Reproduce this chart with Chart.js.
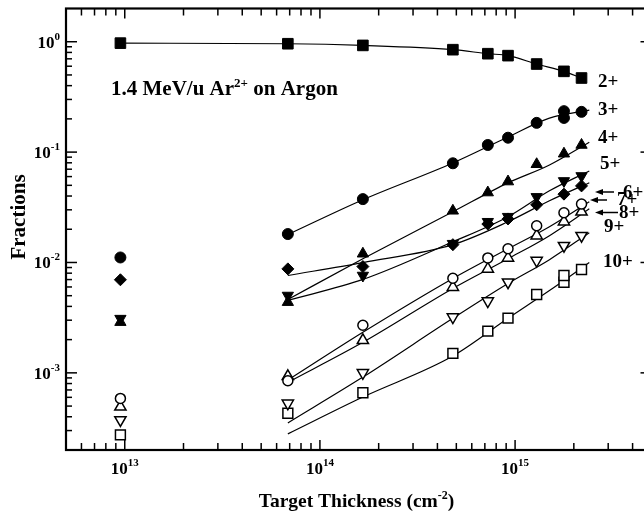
<!DOCTYPE html>
<html>
<head>
<meta charset="utf-8">
<script src="https://cdn.jsdelivr.net/npm/chart.js@4/dist/chart.umd.min.js"></script>
<style>
html,body{margin:0;padding:0;background:#fff;overflow:hidden;}
#wrap{width:660px;height:516px;}
</style>
</head>
<body>
<div id="wrap"><canvas id="c" width="660" height="516"></canvas></div>
<script>
// ---- data ----
const thickness = [9.5e12, 6.85e13, 1.66e14, 4.8e14, 7.25e14, 9.2e14, 1.29e15, 1.78e15, 2.19e15];
const q2  = [0.971, 0.959, 0.926, 0.847, 0.779, 0.748, 0.628, 0.539, 0.469];
const q3  = [0.0111, 0.0181, 0.0375, 0.0792, 0.116, 0.135, 0.184, 0.235, 0.2315];
const q3b = [null, null, null, null, null, null, null, 0.204, null];
const q4  = [0.00288, 0.00437, 0.0120, 0.0294, 0.0430, 0.0541, 0.0776, 0.0967, 0.116];
const q5  = [0.00310, 0.00502, 0.00762, 0.0148, 0.0234, 0.0260, 0.0393, 0.0548, 0.0608];
const q6  = [0.00697, 0.00875, 0.00918, 0.0145, 0.0223, 0.0248, 0.0333, 0.0416, 0.0494];
const q7  = [0.000587, 0.00085, 0.0027, 0.0072, 0.0110, 0.0133, 0.0215, 0.0282, 0.0338];
const q8  = [0.000493, 0.00093, 0.00197, 0.00597, 0.00875, 0.0110, 0.0175, 0.0234, 0.0288];
const q9  = [0.000374, 0.00053, 0.00100, 0.0032, 0.00447, 0.00663, 0.0104, 0.0142, 0.0175];
const q10 = [0.000274, 0.00043, 0.00066, 0.0015, 0.00239, 0.00313, 0.00513, 0.00762, 0.00863];
const q10b= [null, null, null, null, null, null, null, 0.00663, null];

// fitted curves
const fitThickness = [6.85e13, 1.66e14, 4.8e14, 9.2e14, 1.5e15, 2.4e15];
const fit3  = [0.0179, 0.0370, 0.0797, 0.137, 0.203, 0.240];
const fit4  = [0.00462, 0.0108, 0.0288, 0.0526, 0.0765, 0.123];
const fit5  = [0.00453, 0.00702, 0.0154, 0.0260, 0.0446, 0.0675];
const fit6  = [0.00762, 0.00998, 0.0145, 0.0234, 0.0362, 0.0528];
const fit7  = [0.00086, 0.00233, 0.00716, 0.0133, 0.0211, 0.0355];
const fit8  = [0.00082, 0.00189, 0.00581, 0.0108, 0.0175, 0.0306];
const fit9  = [0.000352, 0.000915, 0.00312, 0.00645, 0.0106, 0.0186];
const fit10 = [0.00028, 0.000604, 0.00142, 0.00312, 0.00557, 0.00998];

const xTickExps = [13, 14, 15];
const yTickExps = [0, -1, -2, -3];
const chargeLabels = ['2+', '3+', '4+', '5+', '6+', '7+', '8+', '9+', '10+'];

// ---- build datasets ----
const pts = (xs, ys) => xs.map((x, i) => ys[i] == null ? null : {x, y: ys[i]}).filter(p => p);
const FONT = '"Liberation Serif", "Times New Roman", serif';

function markers(ys, style, filled, r, rot) {
  return {
    type: 'scatter', data: pts(thickness, ys), showLine: false,
    pointStyle: style, pointRadius: r, pointRotation: rot || 0,
    pointBackgroundColor: filled ? '#000' : '#fff', pointBorderColor: '#000',
    pointBorderWidth: filled ? 1 : 1.5, order: 0
  };
}
function fitLine(ys) {
  return {
    type: 'line', data: pts(fitThickness, ys), borderColor: '#000', borderWidth: 1.2,
    pointRadius: 0, cubicInterpolationMode: 'monotone', fill: false, order: 1
  };
}

const datasets = [
  {type: 'line', data: pts(thickness, q2), borderColor: '#000', borderWidth: 1.2, pointRadius: 0,
   cubicInterpolationMode: 'monotone', fill: false, order: 1},
  fitLine(fit3), fitLine(fit4), fitLine(fit5), fitLine(fit6),
  fitLine(fit7), fitLine(fit8), fitLine(fit9), fitLine(fit10),
  markers(q2, 'rect', true, 7.5),
  markers(q3, 'circle', true, 5.5),
  markers(q3b, 'circle', true, 5.5),
  markers(q4, 'triangle', true, 6.5),
  markers(q5, 'triangle', true, 6.5, 180),
  markers(q6, 'rectRot', true, 6),
  markers(q7, 'circle', false, 5),
  markers(q8, 'triangle', false, 6.5),
  markers(q9, 'triangle', false, 6.5, 180),
  markers(q10, 'rect', false, 7),
  markers(q10b, 'rect', false, 7)
];

// ---- helpers for drawing text with superscripts ----
function rich(ctx, segs, x, y, align) {
  let w = 0;
  segs.forEach(s => { ctx.font = 'bold ' + s.size + 'px ' + FONT; s.w = ctx.measureText(s.t).width; w += s.w; });
  let cx = align === 'center' ? x - w / 2 : align === 'right' ? x - w : x;
  ctx.textAlign = 'left'; ctx.textBaseline = 'alphabetic';
  segs.forEach(s => { ctx.font = 'bold ' + s.size + 'px ' + FONT; ctx.fillText(s.t, cx, y - (s.rise || 0)); cx += s.w; });
}
function arrowLeft(ctx, xTip, xTail, y) {
  ctx.beginPath(); ctx.moveTo(xTip + 5, y); ctx.lineTo(xTail, y); ctx.lineWidth = 1.5; ctx.stroke();
  ctx.beginPath(); ctx.moveTo(xTip, y); ctx.lineTo(xTip + 8, y - 3); ctx.lineTo(xTip + 8, y + 3); ctx.closePath(); ctx.fill();
}

const decor = {
  id: 'decor',
  afterDraw(chart) {
    const {ctx, chartArea: a, scales: {x, y}} = chart;
    ctx.save();
    ctx.strokeStyle = '#000'; ctx.fillStyle = '#000';
    // inward ticks
    ctx.lineWidth = 1.5;
    const seg = (x1, y1, x2, y2) => { ctx.beginPath(); ctx.moveTo(x1, y1); ctx.lineTo(x2, y2); ctx.stroke(); };
    for (let e = 12; e <= 16; e++) for (let m = 1; m <= 9; m++) {
      const v = m * Math.pow(10, e);
      if (v < x.min * 1.0001 || v > x.max * 0.9999) continue;
      const px = x.getPixelForValue(v), len = m === 1 ? 10 : 7;
      seg(px, a.bottom, px, a.bottom - len); seg(px, a.top, px, a.top + len);
    }
    for (let e = -4; e <= 0; e++) for (let m = 1; m <= 9; m++) {
      const v = m * Math.pow(10, e);
      if (v < y.min * 1.0001 || v > y.max * 0.9999) continue;
      const py = y.getPixelForValue(v), len = m === 1 ? 11 : 6;
      seg(a.left, py, a.left + len, py); seg(a.right, py, a.right - len, py);
    }
    ctx.lineWidth = 2.2;
    ctx.strokeRect(a.left, a.top, a.width, a.height);

    // tick labels
    xTickExps.forEach(e => {
      const px = x.getPixelForValue(Math.pow(10, e));
      rich(ctx, [{t: '10', size: 17}, {t: String(e), size: 11, rise: 8}], px, a.bottom + 24, 'center');
    });
    yTickExps.forEach(e => {
      const py = y.getPixelForValue(Math.pow(10, e));
      rich(ctx, [{t: '10', size: 17}, {t: String(e), size: 11, rise: 8}], a.left - 6, py + 6, 'right');
    });

    // axis titles
    rich(ctx, [{t: 'Target Thickness (cm', size: 19.5}, {t: '-2', size: 12, rise: 8}, {t: ')', size: 19.5}],
         (a.left + 651) / 2 - 2, 507, 'center');
    ctx.save();
    ctx.translate(25, 217); ctx.rotate(-Math.PI / 2);
    ctx.font = 'bold 21px ' + FONT; ctx.textAlign = 'center'; ctx.textBaseline = 'alphabetic';
    ctx.fillText('Fractions', 0, 0);
    ctx.restore();

    // annotation
    rich(ctx, [{t: '1.4 MeV/u Ar', size: 21}, {t: '2+', size: 13, rise: 8}, {t: ' on Argon', size: 21}], 111, 95, 'left');

    // charge-state labels
    ctx.font = 'bold 19px ' + FONT; ctx.textAlign = 'left'; ctx.textBaseline = 'alphabetic';
    const lab = [[598, 87], [598, 115], [598, 143], [600, 169], [623, 198], [617, 205], [619, 218], [604, 232], [603, 267]];
    chargeLabels.forEach((t, i) => ctx.fillText(t, lab[i][0], lab[i][1]));
    arrowLeft(ctx, 595, 614, 192);
    arrowLeft(ctx, 590, 607, 200);
    arrowLeft(ctx, 595, 618, 212.5);
    ctx.restore();
  }
};

new Chart(document.getElementById('c'), {
  data: {datasets},
  options: {
    responsive: false, animation: false, devicePixelRatio: 1,
    layout: {padding: {left: 66, right: 8.5, top: 7, bottom: 66}},
    plugins: {legend: {display: false}, tooltip: {enabled: false}},
    scales: {
      x: {type: 'logarithmic', min: 5e12, max: 5e15, display: false},
      y: {type: 'logarithmic', min: 2e-4, max: 2, display: false}
    }
  },
  plugins: [decor]
});
</script>
</body>
</html>
